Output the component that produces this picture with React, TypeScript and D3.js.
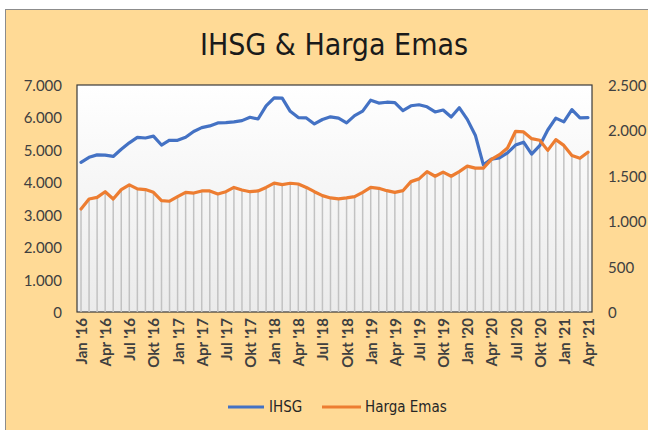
import React from "react";
import * as d3 from "d3";

// monthly points, Jan 2016 - Apr 2021
const months = [
  "Jan '16", "Feb '16", "Mar '16", "Apr '16", "Mei '16", "Jun '16", "Jul '16", "Agu '16", "Sep '16", "Okt '16", "Nov '16", "Des '16",
  "Jan '17", "Feb '17", "Mar '17", "Apr '17", "Mei '17", "Jun '17", "Jul '17", "Agu '17", "Sep '17", "Okt '17", "Nov '17", "Des '17",
  "Jan '18", "Feb '18", "Mar '18", "Apr '18", "Mei '18", "Jun '18", "Jul '18", "Agu '18", "Sep '18", "Okt '18", "Nov '18", "Des '18",
  "Jan '19", "Feb '19", "Mar '19", "Apr '19", "Mei '19", "Jun '19", "Jul '19", "Agu '19", "Sep '19", "Okt '19", "Nov '19", "Des '19",
  "Jan '20", "Feb '20", "Mar '20", "Apr '20", "Mei '20", "Jun '20", "Jul '20", "Agu '20", "Sep '20", "Okt '20", "Nov '20", "Des '20",
  "Jan '21", "Feb '21", "Mar '21", "Apr '21",
];

const ihsg = [
  4615, 4771, 4845, 4839, 4797, 5017, 5216, 5386, 5365, 5423, 5149, 5297,
  5294, 5387, 5568, 5685, 5738, 5830, 5841, 5864, 5901, 6006, 5952, 6356,
  6606, 6597, 6189, 5995, 5984, 5799, 5936, 6018, 5977, 5832, 6056, 6194,
  6533, 6443, 6469, 6455, 6209, 6359, 6391, 6328, 6169, 6228, 6012, 6300,
  5940, 5453, 4538, 4716, 4754, 4905, 5149, 5238, 4870, 5128, 5612, 5979,
  5862, 6242, 5986, 5996,
];

const hargaEmas = [
  1135, 1245, 1262, 1325, 1245, 1348, 1400, 1356, 1348, 1318, 1226, 1220,
  1270, 1318, 1310, 1333, 1333, 1300, 1325, 1372, 1344, 1325, 1333, 1372,
  1420, 1403, 1418, 1410, 1372, 1325, 1282, 1256, 1245, 1256, 1270, 1318,
  1372, 1362, 1336, 1318, 1336, 1436, 1466, 1546, 1495, 1540, 1495, 1546,
  1606, 1584, 1584, 1680, 1732, 1806, 1990, 1983, 1909, 1891, 1780, 1898,
  1835, 1724, 1694, 1760,
];

const leftTicks = [0, 1000, 2000, 3000, 4000, 5000, 6000, 7000];
const rightTicks = [0, 500, 1000, 1500, 2000, 2500];

const W = 648;
const H = 430;
const left = 77;
const right = 592;
const top = 85;
const bottom = 312;

const idLocale = d3.formatLocale({
  decimal: ",",
  thousands: ".",
  grouping: [3],
  currency: ["Rp", ""],
});
const fmt = idLocale.format(",d");

const axisFont = "Lato, 'Open Sans', sans-serif";
const titleFont = "'DejaVu Sans Condensed', 'DejaVu Sans', sans-serif";

export default function App() {
  const x = d3.scaleBand().domain(months).range([left, right]);
  const cx = (m: string) => (x(m) as number) + x.bandwidth() / 2;

  const yL = d3.scaleLinear().domain([0, 7000]).range([bottom, top]);
  const yR = d3.scaleLinear().domain([0, 2500]).range([bottom, top]);

  const ihsgLine = d3
    .line<number>()
    .x((_, i) => cx(months[i]))
    .y((d) => yL(d));
  const emasLine = d3
    .line<number>()
    .x((_, i) => cx(months[i]))
    .y((d) => yR(d));

  const shownMonths = months.filter((_, i) => i % 3 === 0);

  return (
    <svg
      width={W}
      height={H}
      style={{ position: "absolute", left: 0, top: 0, background: "#fff" }}
    >
      <defs>
        <linearGradient id="plotBg" x1="0" y1="0" x2="0" y2="1">
          <stop offset="0" stopColor="#ffffff" />
          <stop offset="1" stopColor="#ebebeb" />
        </linearGradient>
      </defs>

      {/* chart area */}
      <rect x={5.5} y={9.5} width={W + 10} height={H + 10} fill="#FFDA96" stroke="#8c8c8c" />

      <text
        x={334}
        y={55}
        textAnchor="middle"
        fontFamily={titleFont}
        fontStretch="condensed"
        fontSize={30}
        fill="#1a1a1a"
      >
        IHSG &amp; Harga Emas
      </text>

      {/* plot area */}
      <rect
        x={left}
        y={top}
        width={right - left}
        height={bottom - top}
        fill="url(#plotBg)"
        stroke="#3a3a3a"
        strokeWidth={1.2}
      />

      {/* drop lines under the gold series */}
      <g stroke="#c2c2c2" strokeWidth={1.5}>
        {hargaEmas.map((d, i) => (
          <line key={i} x1={cx(months[i])} x2={cx(months[i])} y1={yR(d)} y2={bottom} />
        ))}
      </g>

      <path
        d={ihsgLine(ihsg) ?? ""}
        fill="none"
        stroke="#4472C4"
        strokeWidth={3.2}
        strokeLinejoin="round"
        strokeLinecap="round"
      />
      <path
        d={emasLine(hargaEmas) ?? ""}
        fill="none"
        stroke="#ED7D31"
        strokeWidth={3.2}
        strokeLinejoin="round"
        strokeLinecap="round"
      />

      {/* left axis */}
      <g fontFamily={axisFont} fontSize={15} fill="#404040">
        {leftTicks.map((t) => (
          <text key={t} x={62} y={yL(t)} textAnchor="end" dominantBaseline="central">
            {fmt(t)}
          </text>
        ))}
      </g>

      {/* right axis */}
      <g fontFamily={axisFont} fontSize={15} fill="#404040">
        {rightTicks.map((t) => (
          <text key={t} x={608} y={yR(t)} textAnchor="start" dominantBaseline="central">
            {fmt(t)}
          </text>
        ))}
      </g>

      {/* x axis labels */}
      <g fontFamily={axisFont} fontSize={15} fontWeight="bold" fill="#404040">
        {shownMonths.map((m) => (
          <text
            key={m}
            transform={`translate(${cx(m)},${bottom + 6}) rotate(-90)`}
            textAnchor="end"
            dominantBaseline="central"
          >
            {m}
          </text>
        ))}
      </g>

      {/* legend */}
      <g fontFamily={titleFont} fontStretch="condensed" fontSize={15} fill="#262626">
        <line x1={228} x2={264} y1={407} y2={407} stroke="#4472C4" strokeWidth={3.2} />
        <text x={269} y={407} dominantBaseline="central">IHSG</text>
        <line x1={322} x2={361} y1={407} y2={407} stroke="#ED7D31" strokeWidth={3.2} />
        <text x={365} y={407} dominantBaseline="central">Harga Emas</text>
      </g>
    </svg>
  );
}
